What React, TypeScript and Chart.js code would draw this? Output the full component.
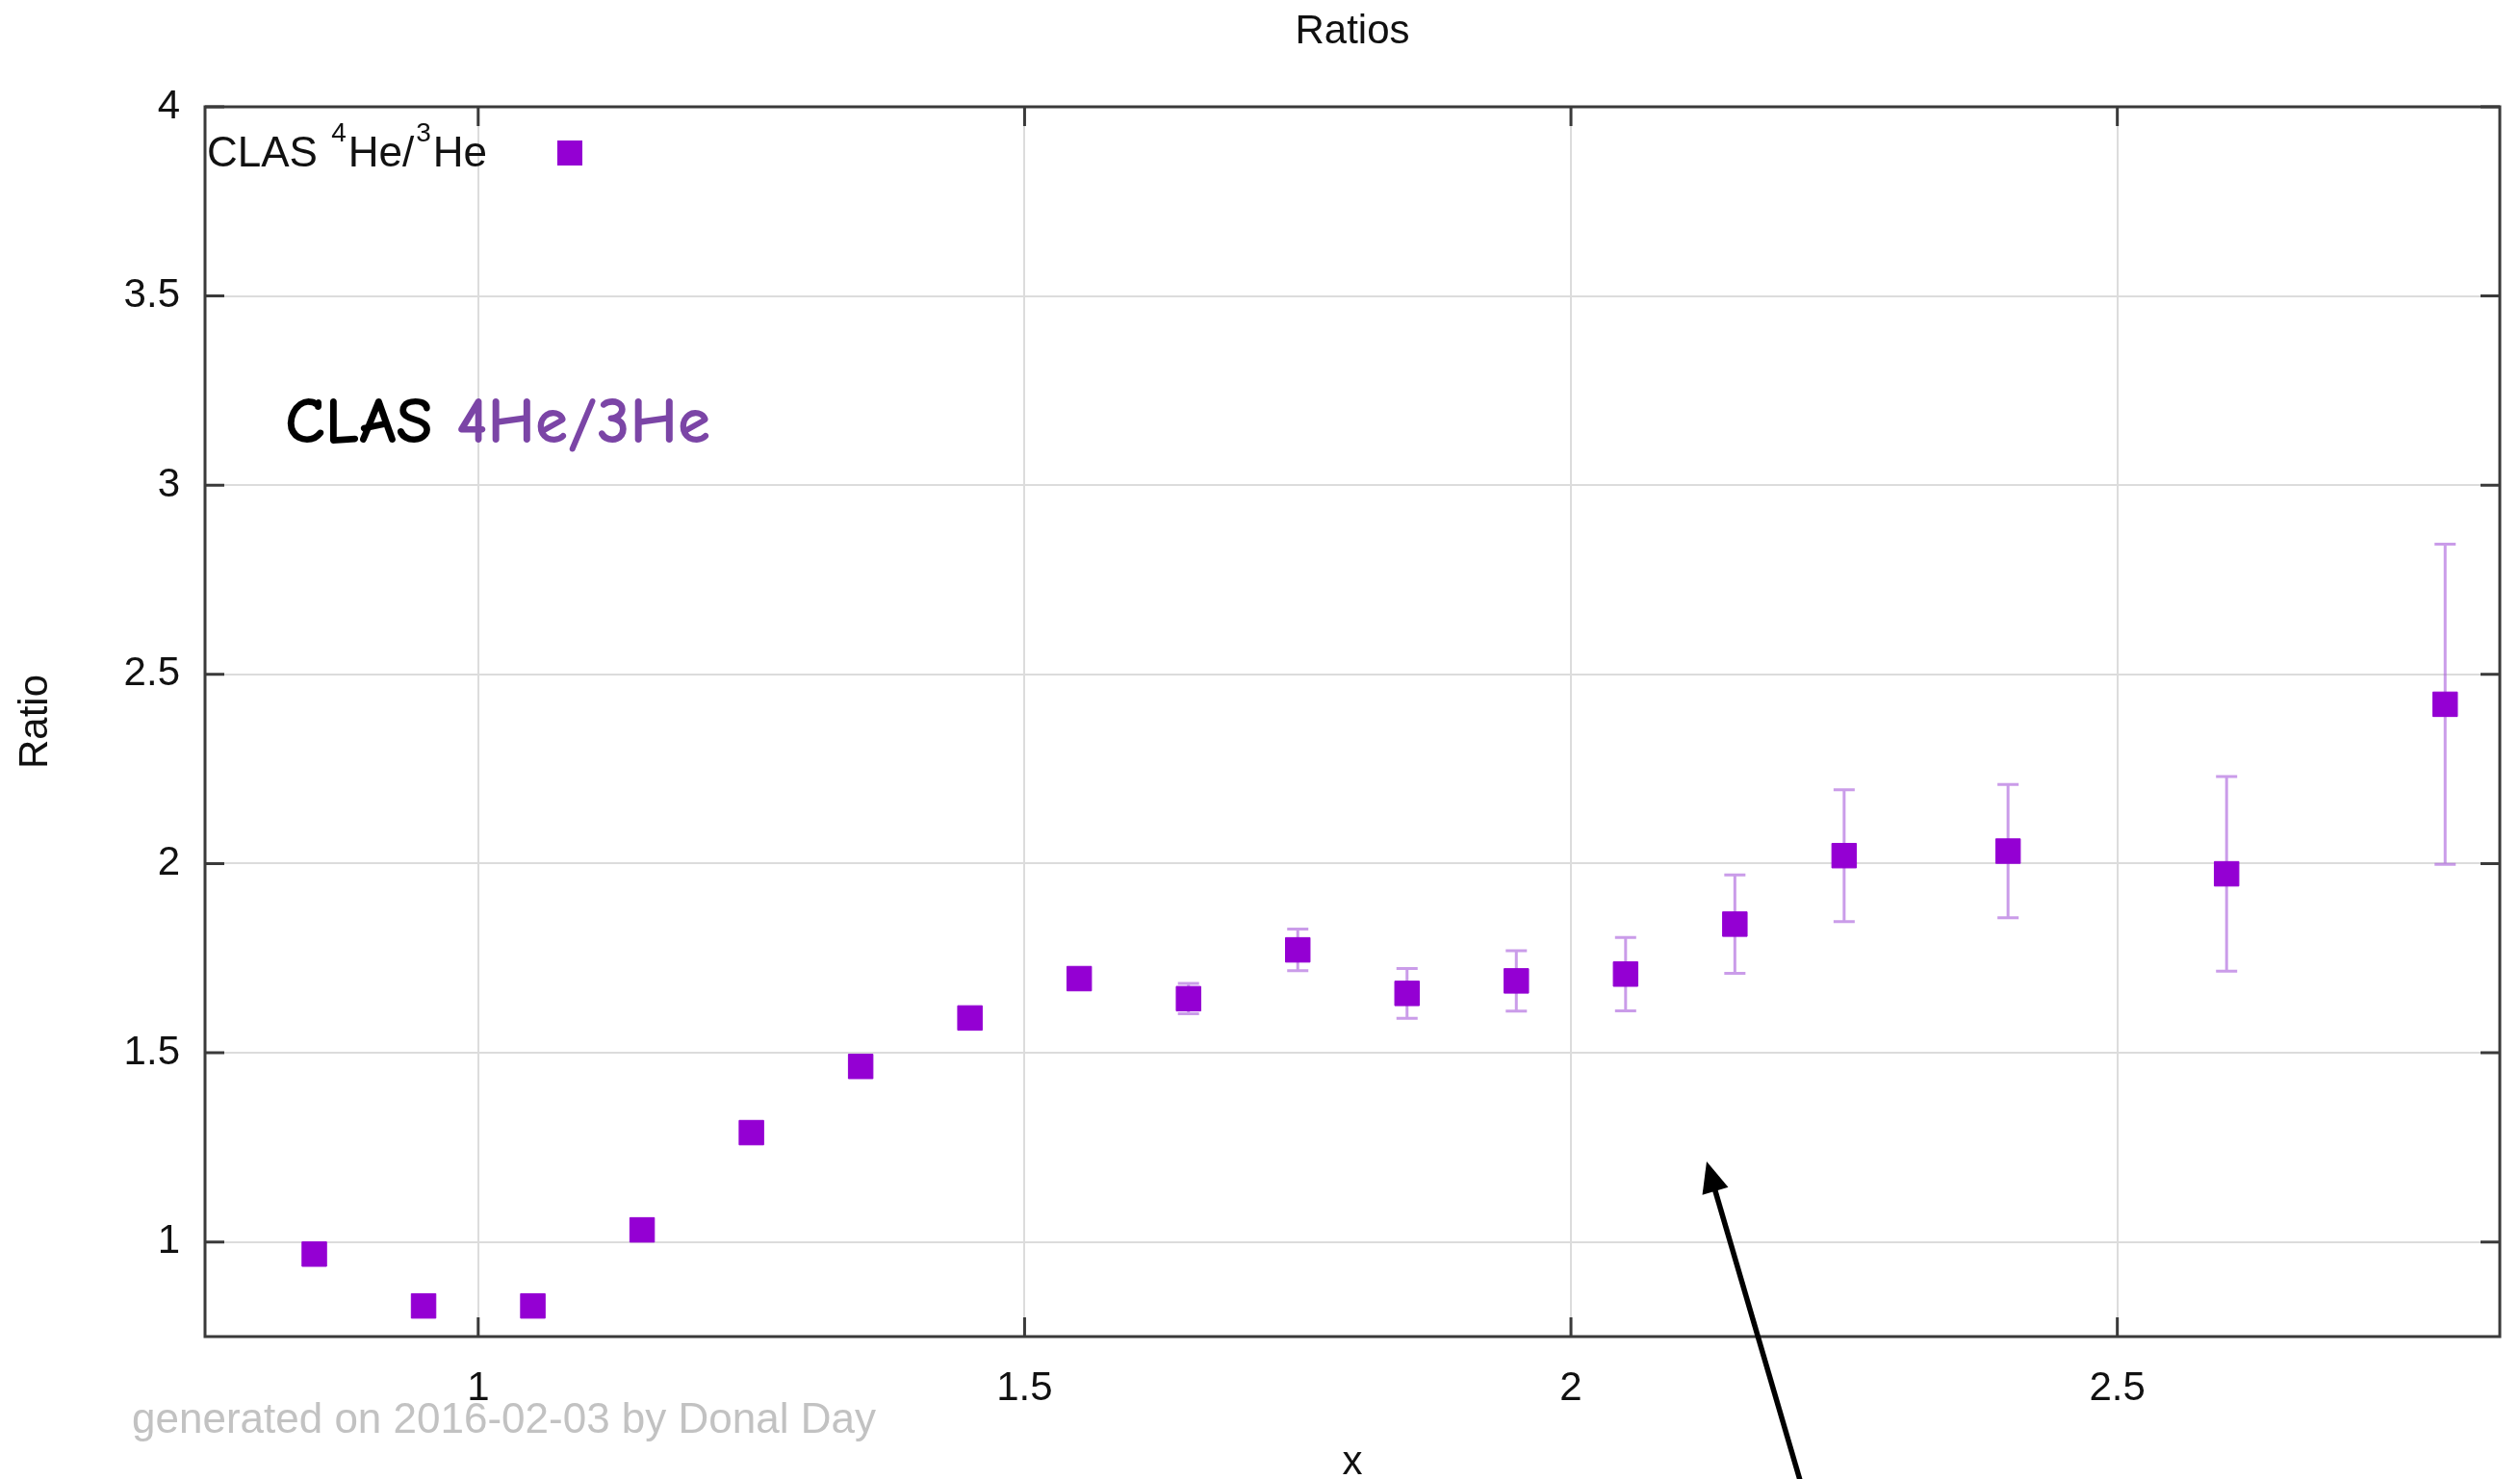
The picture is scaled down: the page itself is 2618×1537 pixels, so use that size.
import React, { useEffect, useRef } from "react";
import { Chart, registerables } from "chart.js";

Chart.register(...registerables);

// ---- data ----
const xValues = [0.85, 0.95, 1.05, 1.15, 1.25, 1.35, 1.45, 1.55, 1.65, 1.75, 1.85, 1.95, 2.05, 2.15, 2.25, 2.4, 2.6, 2.8];
const ratioValues = [0.968, 0.831, 0.831, 1.032, 1.289, 1.464, 1.592, 1.696, 1.643, 1.772, 1.657, 1.69, 1.708, 1.84, 2.021, 2.033, 1.973, 2.421];
const ratioErrors = [0.01, 0.01, 0.01, 0.01, 0.01, 0.01, 0.012, 0.015, 0.04, 0.055, 0.066, 0.08, 0.097, 0.13, 0.174, 0.176, 0.257, 0.423];
const xTickValues = [1, 1.5, 2, 2.5];
const yTickValues = [1, 1.5, 2, 2.5, 3, 3.5, 4];
const xRange = [0.75, 2.85];
const yRange = [0.75, 4];

const chartTitle = "Ratios";
const xAxisTitle = "x";
const yAxisTitle = "Ratio";
const legendParts = [
  { text: "CLAS ", sup: false },
  { text: "4", sup: true },
  { text: "He/", sup: false },
  { text: "3", sup: true },
  { text: "He", sup: false },
];
const footerText = "generated on 2016-02-03 by Donal Day";
const noteBlack = "CLAS ";
const notePurple = "4He/3He";

// ---- styles ----
const FONT = '"Liberation Sans", Arial, Helvetica, sans-serif';
const COMIC = '"Comic Sans MS", "Comic Neue", "DejaVu Sans", sans-serif';
const MARKER = "#9400D3";
const ERRBAR = "rgba(170, 95, 220, 0.62)";
const GRID = "#dcdcdc";
const AXIS = "#3a3a3a";

const overlayPlugin = {
  id: "overlay",
  beforeDatasetsDraw(chart: any) {
    const ctx = chart.ctx;
    const xs = chart.scales.x;
    const ys = chart.scales.y;
    ctx.save();
    ctx.strokeStyle = ERRBAR;
    ctx.lineWidth = 3;
    xValues.forEach((xv, i) => {
      const px = xs.getPixelForValue(xv);
      const top = ys.getPixelForValue(ratioValues[i] + ratioErrors[i]);
      const bot = ys.getPixelForValue(ratioValues[i] - ratioErrors[i]);
      ctx.beginPath();
      ctx.moveTo(px, top);
      ctx.lineTo(px, bot);
      ctx.moveTo(px - 11, top);
      ctx.lineTo(px + 11, top);
      ctx.moveTo(px - 11, bot);
      ctx.lineTo(px + 11, bot);
      ctx.stroke();
    });
    ctx.restore();
  },
  afterDraw(chart: any) {
    const ctx = chart.ctx;
    const a = chart.chartArea;
    const xs = chart.scales.x;
    const ys = chart.scales.y;
    ctx.save();

    // inner tick marks
    ctx.strokeStyle = AXIS;
    ctx.lineWidth = 3;
    ctx.beginPath();
    yTickValues.forEach((v) => {
      const py = ys.getPixelForValue(v);
      ctx.moveTo(a.left, py);
      ctx.lineTo(a.left + 20, py);
      ctx.moveTo(a.right, py);
      ctx.lineTo(a.right - 20, py);
    });
    xTickValues.forEach((v) => {
      const px = xs.getPixelForValue(v);
      ctx.moveTo(px, a.bottom);
      ctx.lineTo(px, a.bottom - 20);
      ctx.moveTo(px, a.top);
      ctx.lineTo(px, a.top + 20);
    });
    ctx.stroke();

    // border
    ctx.lineWidth = 3;
    ctx.strokeRect(a.left, a.top, a.right - a.left, a.bottom - a.top);

    // title
    ctx.fillStyle = "#111";
    ctx.font = `42px ${FONT}`;
    ctx.textAlign = "center";
    ctx.textBaseline = "middle";
    ctx.fillText(chartTitle, (a.left + a.right) / 2, 33);

    // x title
    ctx.fillText(xAxisTitle, (a.left + a.right) / 2, 1520);

    // y title
    ctx.save();
    ctx.translate(37, (a.top + a.bottom) / 2);
    ctx.rotate(-Math.PI / 2);
    ctx.fillText(yAxisTitle, 0, 0);
    ctx.restore();

    // legend
    ctx.textAlign = "left";
    ctx.textBaseline = "alphabetic";
    let lx = a.left + 2;
    const lb = 173;
    legendParts.forEach((p) => {
      ctx.font = p.sup ? `28px ${FONT}` : `44px ${FONT}`;
      ctx.fillText(p.text, lx, p.sup ? lb - 26 : lb);
      lx += ctx.measureText(p.text).width + 2;
    });
    ctx.fillStyle = MARKER;
    ctx.fillRect(592 - 13, 159 - 13, 26, 26);

    // footer
    ctx.fillStyle = "#c2c2c2";
    ctx.font = `44px ${FONT}`;
    ctx.textBaseline = "middle";
    ctx.fillText(footerText, 137, 1477);

    // annotation
    ctx.textBaseline = "alphabetic";
    let size = 64;
    ctx.font = `600 ${size}px ${COMIC}`;
    const w = ctx.measureText(noteBlack + notePurple).width;
    size = Math.min(72, (size * 442) / w);
    ctx.font = `600 ${size}px ${COMIC}`;
    ctx.fillStyle = "#000";
    ctx.fillText(noteBlack, 296, 460);
    const bw = ctx.measureText(noteBlack).width;
    ctx.fillStyle = "#7B45A6";
    ctx.fillText(notePurple, 296 + bw, 460);

    // arrow
    const tipX = 1773, tipY = 1207, tailX = 1872, tailY = 1545;
    const dx = tipX - tailX, dy = tipY - tailY;
    const len = Math.hypot(dx, dy);
    const ux = dx / len, uy = dy / len;
    const headLen = 32, headHalf = 14;
    const bx = tipX - ux * headLen, by = tipY - uy * headLen;
    ctx.strokeStyle = "#000";
    ctx.lineWidth = 5.5;
    ctx.beginPath();
    ctx.moveTo(tailX, tailY);
    ctx.lineTo(bx + ux * 4, by + uy * 4);
    ctx.stroke();
    ctx.fillStyle = "#000";
    ctx.beginPath();
    ctx.moveTo(tipX, tipY);
    ctx.lineTo(bx - uy * headHalf, by + ux * headHalf);
    ctx.lineTo(bx + uy * headHalf, by - ux * headHalf);
    ctx.closePath();
    ctx.fill();

    ctx.restore();
  },
};

const fmt = (v: any) => String(Number(v));

export default function App() {
  const ref = useRef<HTMLCanvasElement | null>(null);

  useEffect(() => {
    if (!ref.current) return;
    const chart = new Chart(ref.current, {
      type: "scatter",
      data: {
        datasets: [
          {
            label: "CLAS 4He/3He",
            data: xValues.map((x, i) => ({ x, y: ratioValues[i] })),
            pointStyle: "rect",
            pointRadius: 18,
            pointHoverRadius: 18,
            backgroundColor: MARKER,
            borderColor: MARKER,
            borderWidth: 1,
            showLine: false,
          },
        ],
      },
      options: {
        responsive: false,
        animation: false,
        devicePixelRatio: 1,
        layout: { padding: { top: 111, right: 21, left: 0, bottom: 0 } },
        plugins: {
          legend: { display: false },
          tooltip: { enabled: false },
          title: { display: false },
        },
        scales: {
          x: {
            type: "linear",
            min: xRange[0],
            max: xRange[1],
            afterBuildTicks: (s: any) => {
              s.ticks = xTickValues.map((v) => ({ value: v }));
            },
            afterFit: (s: any) => {
              s.height = 148;
            },
            grid: { color: GRID, lineWidth: 2, drawTicks: false },
            border: { display: false },
            ticks: {
              padding: 29,
              color: "#111",
              font: { family: FONT, size: 42 },
              maxRotation: 0,
              callback: fmt,
            },
          },
          y: {
            type: "linear",
            min: yRange[0],
            max: yRange[1],
            afterBuildTicks: (s: any) => {
              s.ticks = yTickValues.map((v) => ({ value: v }));
            },
            afterFit: (s: any) => {
              s.width = 213;
            },
            grid: { color: GRID, lineWidth: 2, drawTicks: false },
            border: { display: false },
            ticks: {
              padding: 26,
              color: "#111",
              font: { family: FONT, size: 42 },
              callback: fmt,
            },
          },
        },
      },
      plugins: [overlayPlugin],
    } as any);
    return () => chart.destroy();
  }, []);

  return (
    <canvas
      ref={ref}
      width={2618}
      height={1537}
      style={{ position: "absolute", left: 0, top: 0, width: 2618, height: 1537, background: "#fff" }}
    />
  );
}
